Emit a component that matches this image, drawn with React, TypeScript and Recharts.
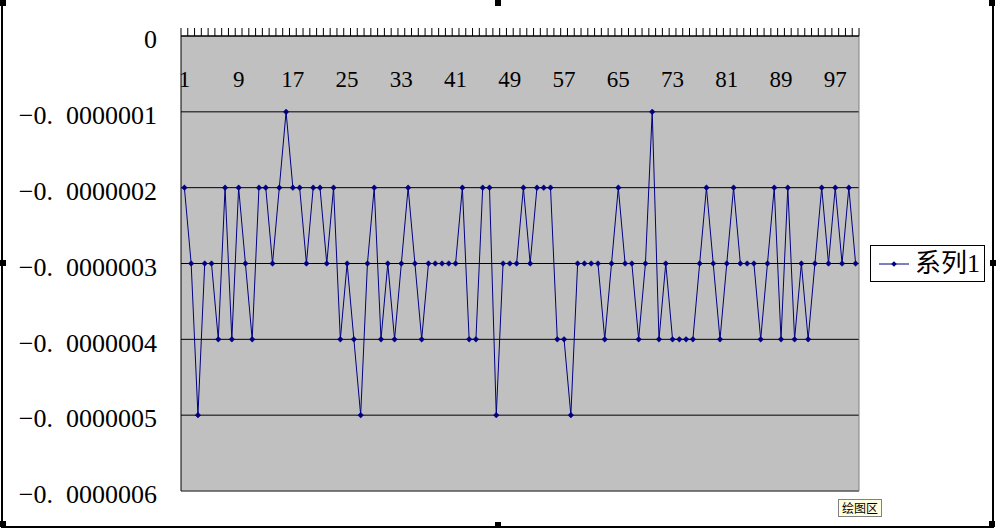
import React from "react";
import {
  LineChart,
  Line,
  XAxis,
  YAxis,
  CartesianGrid,
  Legend,
  ReferenceLine,
} from "recharts";

// ---- data ----
const categories: number[] = Array.from({ length: 100 }, (_, i) => i + 1);

const series1: number[] = [
  -2e-7, -3e-7, -5e-7, -3e-7, -3e-7, -4e-7, -2e-7, -4e-7, -2e-7, -3e-7,
  -4e-7, -2e-7, -2e-7, -3e-7, -2e-7, -1e-7, -2e-7, -2e-7, -3e-7, -2e-7,
  -2e-7, -3e-7, -2e-7, -4e-7, -3e-7, -4e-7, -5e-7, -3e-7, -2e-7, -4e-7,
  -3e-7, -4e-7, -3e-7, -2e-7, -3e-7, -4e-7, -3e-7, -3e-7, -3e-7, -3e-7,
  -3e-7, -2e-7, -4e-7, -4e-7, -2e-7, -2e-7, -5e-7, -3e-7, -3e-7, -3e-7,
  -2e-7, -3e-7, -2e-7, -2e-7, -2e-7, -4e-7, -4e-7, -5e-7, -3e-7, -3e-7,
  -3e-7, -3e-7, -4e-7, -3e-7, -2e-7, -3e-7, -3e-7, -4e-7, -3e-7, -1e-7,
  -4e-7, -3e-7, -4e-7, -4e-7, -4e-7, -4e-7, -3e-7, -2e-7, -3e-7, -4e-7,
  -3e-7, -2e-7, -3e-7, -3e-7, -3e-7, -4e-7, -3e-7, -2e-7, -4e-7, -2e-7,
  -4e-7, -3e-7, -4e-7, -3e-7, -2e-7, -3e-7, -2e-7, -3e-7, -2e-7, -3e-7,
];

const seriesName = "系列1";

const xTickLabels: number[] = [1, 9, 17, 25, 33, 41, 49, 57, 65, 73, 81, 89, 97];
// category boundaries for the tick marks on the category axis
const xTickMarks: number[] = [0, ...categories].map((c) => c + 0.5);
const xTicksAll: number[] = [...xTickMarks, ...xTickLabels].sort((a, b) => a - b);

const yTicks: number[] = [0, -1e-7, -2e-7, -3e-7, -4e-7, -5e-7, -6e-7];
const yTickLabels: string[] = [
  "0",
  "\u22120.\u20020000001",
  "\u22120.\u20020000002",
  "\u22120.\u20020000003",
  "\u22120.\u20020000004",
  "\u22120.\u20020000005",
  "\u22120.\u20020000006",
];

const data = categories.map((c, i) => ({ x: c, v: series1[i] }));

const NAVY = "#000080";
const SERIF = "'Liberation Serif', 'Times New Roman', serif";
const CJK = "'Liberation Serif', 'Noto Sans CJK SC', serif";

const Diamond = (props: any) => {
  const { cx, cy } = props;
  if (cx == null || cy == null) return null;
  const r = 2.8;
  return (
    <polygon
      points={`${cx},${cy - r} ${cx + r},${cy} ${cx},${cy + r} ${cx - r},${cy}`}
      fill={NAVY}
      stroke={NAVY}
      strokeWidth={0.5}
    />
  );
};

// category-axis tick: boundary values get a tick mark above the axis,
// category values listed in xTickLabels get a label inside the plot area
const XTick = (props: any) => {
  const { x, y, payload } = props;
  const v: number = payload.value;
  if (xTickLabels.includes(v)) {
    return (
      <text
        x={x}
        y={y + 51}
        textAnchor="middle"
        fontSize={23}
        fontFamily={SERIF}
        fill="#000"
      >
        {v}
      </text>
    );
  }
  return <line x1={x} y1={y} x2={x} y2={y - 8} stroke="#000" strokeWidth={1} />;
};

const LegendBox = () => (
  <div
    style={{
      boxSizing: "border-box",
      width: 115,
      height: 37,
      border: "1px solid #000",
      background: "#fff",
      display: "flex",
      alignItems: "center",
    }}
  >
    <svg width={38} height={20} style={{ marginLeft: 6 }}>
      <line x1={2} y1={10} x2={32} y2={10} stroke={NAVY} strokeWidth={1} />
      <polygon points="17,7.2 19.8,10 17,12.8 14.2,10" fill={NAVY} />
    </svg>
    <span style={{ fontFamily: CJK, fontSize: 26, lineHeight: "30px", color: "#000" }}>
      {seriesName}
    </span>
  </div>
);

const handle = (left: number, top: number) => (
  <div
    style={{
      position: "absolute",
      left,
      top,
      width: 6,
      height: 6,
      background: "#000",
    }}
  />
);

export default function App() {
  return (
    <div
      style={{
        position: "absolute",
        left: 0,
        top: 0,
        width: 996,
        height: 528,
        background: "#fff",
        overflow: "hidden",
      }}
    >
      <LineChart
        width={996}
        height={528}
        data={data}
        margin={{ top: 26, right: 137, bottom: 37, left: 0 }}
      >
        <CartesianGrid
          vertical={false}
          horizontal={true}
          stroke="#000"
          strokeWidth={1}
          fill="#C0C0C0"
          fillOpacity={1}
        />
        <XAxis
          dataKey="x"
          type="number"
          domain={[0.5, 100.5]}
          orientation="top"
          height={10}
          ticks={xTicksAll}
          interval={0}
          tickSize={0}
          tickMargin={0}
          tickLine={false}
          tick={<XTick />}
          axisLine={{ stroke: "#000" }}
        />
        <YAxis
          type="number"
          domain={[-6e-7, 0]}
          ticks={yTicks}
          interval={0}
          width={181}
          tickSize={0}
          tickMargin={24}
          tickLine={false}
          axisLine={{ stroke: "#000" }}
          tickFormatter={(v: number) => yTickLabels[yTicks.indexOf(v)] ?? ""}
          tick={{ fontSize: 26, fill: "#000", fontFamily: SERIF, dy: 3 }}
        />
        <ReferenceLine x={100.5} stroke="#808080" />
        <ReferenceLine y={-6e-7} stroke="#808080" />
        <Line
          type="linear"
          dataKey="v"
          name={seriesName}
          stroke={NAVY}
          strokeWidth={1}
          dot={<Diamond />}
          activeDot={false}
          isAnimationActive={false}
        />
        <Legend
          layout="horizontal"
          align="center"
          verticalAlign="middle"
          content={() => <LegendBox />}
          wrapperStyle={{ left: 870, top: 245, width: 115, height: 37 }}
        />
      </LineChart>

      {/* chart frame */}
      <div style={{ position: "absolute", left: 1, top: 4, width: 2, height: 524, background: "#000" }} />
      <div style={{ position: "absolute", left: 992, top: 4, width: 2, height: 524, background: "#000" }} />
      <div style={{ position: "absolute", left: 1, top: 526, width: 993, height: 2, background: "#000" }} />
      {handle(0, 0)}
      {handle(495, 0)}
      {handle(989, 0)}
      {handle(0, 260)}
      {handle(990, 260)}
      {handle(0, 521)}
      {handle(495, 522)}
      {handle(989, 521)}

      {/* plot-area tooltip */}
      <div
        style={{
          position: "absolute",
          left: 838,
          top: 499,
          width: 44,
          height: 18,
          boxSizing: "border-box",
          border: "1px solid #808080",
          background: "#FFFFE1",
          fontFamily: "'Noto Sans CJK SC', sans-serif",
          fontSize: 12,
          lineHeight: "16px",
          textAlign: "center",
          color: "#000",
        }}
      >
        绘图区
      </div>
    </div>
  );
}
